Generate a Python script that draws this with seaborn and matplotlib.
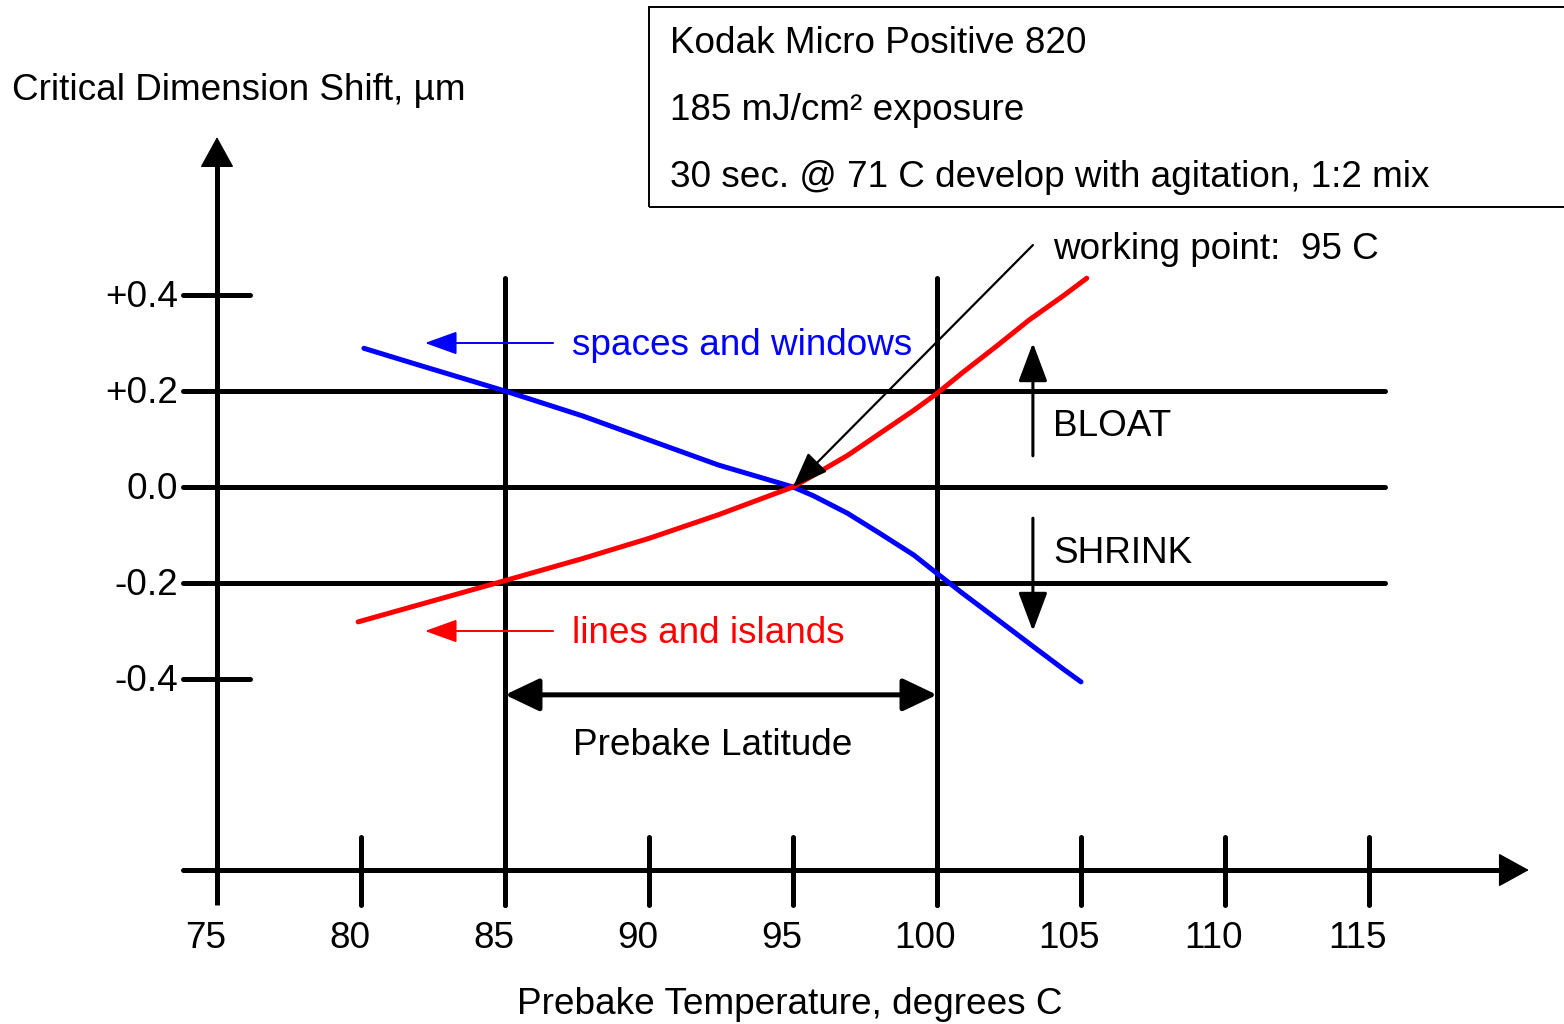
import numpy as np
import pandas as pd
import seaborn as sns
import matplotlib.pyplot as plt
from matplotlib.patches import Rectangle

# curves (prebake temperature C -> CD shift um)
temps_sw = [80.1, 81.9, 85, 87.7, 90, 92.4, 95, 95.7, 96.9, 98, 99.2, 100, 100.9, 102.1, 103.2, 104.4, 105]
spaces_windows = [0.289, 0.256, 0.200, 0.148, 0.098, 0.046, 0.0, -0.018, -0.055, -0.096, -0.142,
                  -0.180, -0.222, -0.276, -0.326, -0.380, -0.406]
temps_li = [79.9, 85, 87.7, 90, 92.4, 94.1, 95, 95.7, 96.9, 98, 99.2, 100, 100.9, 102.1, 103.2, 104.4, 105.2]
lines_islands = [-0.281, -0.195, -0.149, -0.107, -0.058, -0.02, 0.0, 0.024, 0.066, 0.111, 0.160,
                 0.195, 0.239, 0.295, 0.348, 0.399, 0.435]

x_ticks = [75, 80, 85, 90, 95, 100, 105, 110, 115]
y_ticks = [0.4, 0.2, 0.0, -0.2, -0.4]
y_tick_labels = ['+0.4', '+0.2', '0.0', '-0.2', '-0.4']
ref_levels = [0.2, 0.0, -0.2]
latitude = [85, 100]
working_point = (95, 0.0)

info_lines = ['Kodak Micro Positive 820',
              '185 mJ/cm\u00b2 exposure',
              '30 sec. @ 71 C develop with agitation, 1:2 mix']

df = pd.concat([
    pd.DataFrame({'temp': temps_sw, 'shift': spaces_windows, 'kind': 'spaces and windows'}),
    pd.DataFrame({'temp': temps_li, 'shift': lines_islands, 'kind': 'lines and islands'}),
])

sns.set_style('white')
plt.rcParams['font.family'] = ['Liberation Sans', 'DejaVu Sans']
plt.rcParams['text.color'] = 'black'
FS = 26.6
LW = 3.6
DY = -0.006  # small nudge so text sits like the original

fig = plt.figure(figsize=(15.64, 10.24), dpi=100)
ax = fig.add_axes([0, 0, 1, 1])
ax.set_xlim(75 - 217 / 28.8, 75 + (1564 - 217) / 28.8)
ax.set_ylim((487 - 1024) / 480, 487 / 480)
ax.axis('off')

x_left, x_right = 73.82, 115.56
y_axis_y = -0.798
tick_top, tick_bot = -0.729, -0.871

# reference lines + short ticks on the y axis
ax.hlines(ref_levels, x_left, x_right, color='black', lw=LW, capstyle='round')
ax.hlines([t for t in y_ticks if t not in ref_levels], x_left, 76.15, color='black', lw=LW, capstyle='round')
ax.vlines(x_ticks[1:], tick_top, tick_bot, color='black', lw=LW, capstyle='round')
ax.vlines(latitude, tick_bot, 0.435, color='black', lw=LW, capstyle='round')
ax.vlines(x_ticks[0], tick_bot, 0.68, color='black', lw=LW)
ax.hlines(y_axis_y, x_left, 119.6, color='black', lw=LW, capstyle='round')

# axis arrow heads (head only, the shaft is the line above)
head = dict(arrowstyle='-|>,head_length=1.0,head_width=0.55', mutation_scale=20,
            color='black', lw=1.0, shrinkA=0, shrinkB=0)
ax.annotate('', xy=(120.55, y_axis_y), xytext=(119.5, y_axis_y), arrowprops=head)
ax.annotate('', xy=(75, 0.729), xytext=(75, 0.67), arrowprops=head)

# curves
sns.lineplot(data=df, x='temp', y='shift', hue='kind', sort=False, estimator=None,
             palette={'spaces and windows': '#0000ff', 'lines and islands': '#ff0000'},
             lw=LW, legend=False, ax=ax, solid_capstyle='round', solid_joinstyle='round')

# tick labels
for t, lab in zip(y_ticks, y_tick_labels):
    ax.text(73.65, t + DY, lab, ha='right', va='center', fontsize=FS)
for t in x_ticks:
    ax.text(t - 0.4, -0.935 + DY, str(t), ha='center', va='center', fontsize=FS)

ax.text(67.88, 0.831 + DY, 'Critical Dimension Shift, \u00b5m', ha='left', va='center', fontsize=FS)
ax.text(85.42, -1.073 + DY, 'Prebake Temperature, degrees C', ha='left', va='center', fontsize=FS)

# info box
ax.add_patch(Rectangle((90.0, 0.583), 40, 0.417, fill=False, ec='black', lw=1.4))
for yy, line in zip([0.929, 0.79, 0.65], info_lines):
    ax.text(90.73, yy + DY, line, ha='left', va='center', fontsize=FS)

# curve labels with small arrows
small = dict(arrowstyle='-|>,head_length=1.0,head_width=0.36', mutation_scale=20, lw=1.4, shrinkA=0, shrinkB=0)
ax.annotate('', xy=(82.22, 0.3), xytext=(86.67, 0.3), arrowprops=dict(color='#0000ff', **small))
ax.text(87.33, 0.3 + DY, 'spaces and windows', color='#0000ff', ha='left', va='center', fontsize=FS)
ax.annotate('', xy=(82.22, -0.3), xytext=(86.67, -0.3), arrowprops=dict(color='#ff0000', **small))
ax.text(87.33, -0.3 + DY, 'lines and islands', color='#ff0000', ha='left', va='center', fontsize=FS)

# bloat / shrink
bs = dict(arrowstyle='-|>,head_length=1.2,head_width=0.45', mutation_scale=20, lw=2.2,
          color='black', shrinkA=0, shrinkB=0)
ax.annotate('', xy=(103.33, 0.3), xytext=(103.33, 0.065), arrowprops=bs)
ax.annotate('', xy=(103.33, -0.3), xytext=(103.33, -0.065), arrowprops=bs)
ax.text(104.03, 0.133 + DY, 'BLOAT', ha='left', va='center', fontsize=FS)
ax.text(104.03, -0.133 + DY, 'SHRINK', ha='left', va='center', fontsize=FS)

# working point
ax.annotate('', xy=working_point, xytext=(103.33, 0.504),
            arrowprops=dict(arrowstyle='-|>,head_length=1.1,head_width=0.42', mutation_scale=20,
                            lw=1.6, color='black', shrinkA=0, shrinkB=0))
ax.text(104.03, 0.5 + DY, 'working point:  %d C' % working_point[0], ha='left', va='center', fontsize=FS)

# prebake latitude
ax.annotate('', xy=(latitude[0], -0.433), xytext=(latitude[1], -0.433),
            arrowprops=dict(arrowstyle='<|-|>,head_length=1.05,head_width=0.5', mutation_scale=20,
                            lw=LW, color='black', shrinkA=0, shrinkB=0))
ax.text(87.36, -0.533 + DY, 'Prebake Latitude', ha='left', va='center', fontsize=FS)

fig.savefig('out.png', dpi=100)
